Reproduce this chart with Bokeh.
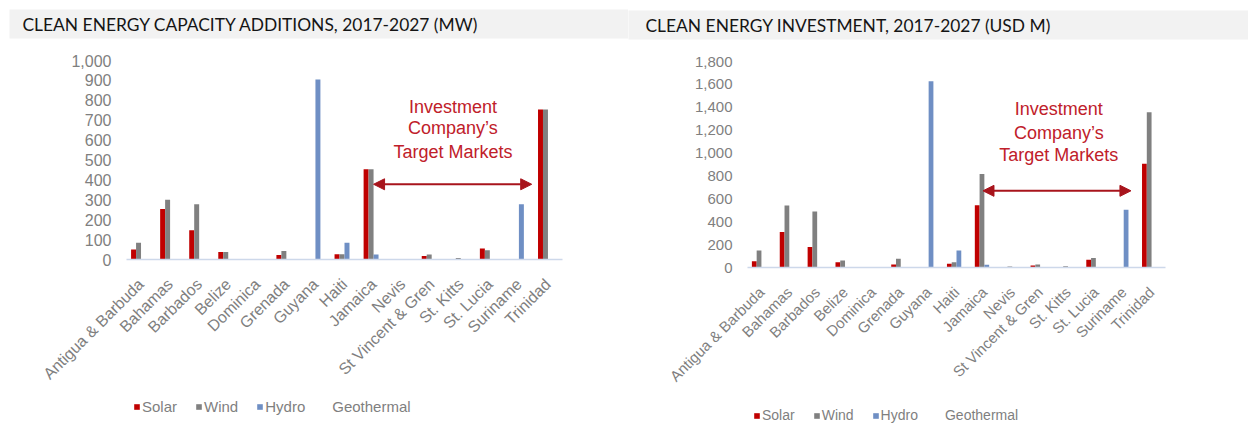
import math
from bokeh.plotting import figure
from bokeh.models import (ColumnDataSource, FactorRange, Range1d, Title, Label, Arrow,
                          NormalHead, Legend, LegendItem, NumeralTickFormatter, FixedTicker)
from bokeh.transform import dodge
from bokeh.layouts import row, column
from bokeh.embed import file_html
from bokeh.resources import INLINE

countries = ["Antigua & Barbuda", "Bahamas", "Barbados", "Belize", "Dominica", "Grenada",
             "Guyana", "Haiti", "Jamaica", "Nevis", "St Vincent & Gren", "St. Kitts",
             "St. Lucia", "Suriname", "Trinidad"]

# Capacity additions (MW)
cap_solar = [50, 254, 147, 38, 0, 23, 0, 26, 453, 0, 18, 0, 55, 0, 754]
cap_wind = [84, 300, 278, 38, 0, 43, 0, 26, 453, 3, 25, 8, 47, 0, 754]
cap_hydro = [0, 0, 0, 0, 0, 0, 905, 84, 25, 0, 0, 0, 0, 278, 0]
cap_geo = [0] * 15

# Investment (USD M)
inv_solar = [55, 310, 180, 46, 0, 26, 0, 32, 543, 0, 17, 0, 67, 0, 906]
inv_wind = [148, 542, 490, 61, 0, 76, 0, 46, 818, 8, 26, 10, 84, 0, 1356]
inv_hydro = [0, 0, 0, 0, 0, 0, 1628, 148, 23, 0, 0, 0, 0, 505, 0]
inv_geo = [0] * 15

series_names = ["Solar", "Wind", "Hydro", "Geothermal"]
series_colors = ["#c00000", "#808080", "#6f8fc4", "#ffffff"]

GRAY = "#7f7f7f"
FONT = "Liberation Sans"
MAIN_H = 395
LEG_H = 28


def make_chart(title, vals, ymax, ystep, width, border, tick_fs, legend_fs, legend_loc,
               title_off, title_pad, note_x, note_ys, arrow_x, arrow_y):
    left, right, top, bottom = border
    src = ColumnDataSource(dict(x=countries, s0=vals[0], s1=vals[1], s2=vals[2], s3=vals[3]))
    p = figure(x_range=FactorRange(*countries, range_padding=0, factor_padding=0),
               y_range=Range1d(0, ymax), width=width, height=MAIN_H,
               output_backend="svg", toolbar_location=None,
               min_border_left=left, min_border_right=right,
               min_border_top=top, min_border_bottom=bottom)
    p.outline_line_color = None
    p.xgrid.grid_line_color = None
    p.ygrid.grid_line_color = None
    offsets = [-0.257, -0.0857, 0.0857, 0.257]
    for i, col in enumerate(series_colors):
        p.vbar(x=dodge("x", offsets[i], range=p.x_range), top="s%d" % i, width=0.171,
               source=src, fill_color=col, line_color=None)

    # axes
    p.yaxis.ticker = FixedTicker(ticks=list(range(0, ymax + 1, ystep)))
    p.yaxis.formatter = NumeralTickFormatter(format="0,0")
    p.yaxis.axis_line_color = None
    p.yaxis.major_tick_line_color = None
    p.yaxis.minor_tick_line_color = None
    p.yaxis.major_tick_out = 0
    p.yaxis.minor_tick_out = 0
    p.yaxis.major_label_standoff = 15
    p.yaxis.major_label_text_font = FONT
    p.yaxis.major_label_text_font_size = tick_fs
    p.yaxis.major_label_text_color = GRAY

    p.xaxis.axis_line_color = "#cdd8ea"
    p.xaxis.axis_line_width = 1.5
    p.xaxis.major_tick_line_color = None
    p.xaxis.minor_tick_line_color = None
    p.xaxis.major_tick_out = 0
    p.xaxis.minor_tick_out = 0
    p.xaxis.major_label_orientation = math.pi / 4
    p.xaxis.major_label_standoff = 22
    p.xaxis.major_label_text_font = FONT
    p.xaxis.major_label_text_font_size = tick_fs
    p.xaxis.major_label_text_color = GRAY

    # spacer between frame and title, then the title with its grey band
    p.add_layout(Title(text=" ", text_font_size="1px", standoff=19), "above")
    t = Title(text=title, align="left", offset=title_off,
              text_font="Lato", text_font_size="17.4px", text_font_style="normal",
              text_color="#151515", background_fill_color="#f2f2f2",
              padding=dict(left=title_pad[0], right=title_pad[1], top=4, bottom=4),
              standoff=0)
    p.add_layout(t, "above")

    # annotation
    for txt, yy in zip(["Investment", "Company\u2019s", "Target Markets"], note_ys):
        p.add_layout(Label(x=note_x, y=yy, text=txt, text_align="center",
                           text_baseline="middle", text_font=FONT, text_font_size="18px",
                           text_color="#c0202a"))
    p.add_layout(Arrow(x_start=arrow_x[0], x_end=arrow_x[1], y_start=arrow_y, y_end=arrow_y,
                       line_color="#a8141c", line_width=2,
                       start=NormalHead(size=11, fill_color="#a8141c", line_color="#a8141c"),
                       end=NormalHead(size=11, fill_color="#a8141c", line_color="#a8141c")))

    # legend strip below the chart (zero-size swatch renderers draw nothing themselves)
    lf = figure(width=width, height=LEG_H, x_range=Range1d(0, 1), y_range=Range1d(0, 1),
                output_backend="svg", toolbar_location=None, min_border=0)
    lf.axis.visible = False
    lf.grid.grid_line_color = None
    lf.outline_line_color = None
    rends = [lf.vbar(x=[0.5], bottom=[0.5], top=[0.5], width=0, fill_color=c, line_color=None)
             for c in series_colors]
    legend = Legend(items=[LegendItem(label=n, renderers=[r]) for n, r in zip(series_names, rends)],
                    location=legend_loc, orientation="horizontal",
                    border_line_color=None, background_fill_alpha=0,
                    glyph_width=7, glyph_height=7, label_standoff=2, spacing=18,
                    padding=0, margin=0, label_text_font=FONT,
                    label_text_font_size=legend_fs, label_text_color=GRAY)
    lf.add_layout(legend)
    return column(p, lf)


c1 = make_chart("CLEAN ENERGY CAPACITY ADDITIONS, 2017-2027 (MW)",
                [cap_solar, cap_wind, cap_hydro, cap_geo], 1000, 100, 628,
                (126, 66, 60, MAIN_H - 60 - 199), "16px", "15px", (7, 8), -117, (13, 150),
                11.23, [764, 659, 539], (8.5, 13.94), 378)
c2 = make_chart("CLEAN ENERGY INVESTMENT, 2017-2027 (USD M)",
                [inv_solar, inv_wind, inv_hydro, inv_geo], 1800, 200, 620,
                (119, 83, 61, MAIN_H - 61 - 206), "15px", "14px", (6, 0), -119, (17, 201),
                11.17, [1389, 1171, 980], (8.45, 13.76), 670)

layout = row(c1, c2)
open("out.html", "w").write(file_html(layout, INLINE))
